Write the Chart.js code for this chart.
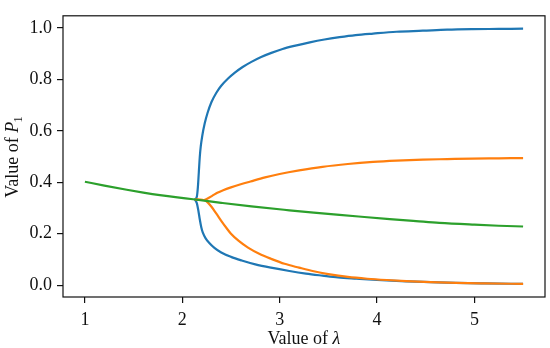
<!DOCTYPE html>
<html>
<head>
<meta charset="utf-8">
<script src="https://cdn.jsdelivr.net/npm/chart.js@4.4.0/dist/chart.umd.min.js"></script>
<style>
  html, body { margin: 0; padding: 0; background: #fff; }
  #wrap { width: 550px; height: 348px; }
</style>
</head>
<body>
<div id="wrap"><canvas id="chart" width="550" height="348"></canvas></div>
<script>
// values
const blueUpLambda = [2.13, 2.15, 2.16, 2.17, 2.18, 2.19, 2.205, 2.23, 2.26, 2.30, 2.35, 2.40, 2.47, 2.54, 2.62, 2.71, 2.81, 2.915, 3.03, 3.15, 3.31, 3.46, 3.615, 3.78, 3.96, 4.2, 4.47, 4.72, 4.98, 5.25, 5.5];
const blueUpP1 = [0.333, 0.345, 0.38, 0.44, 0.50, 0.54, 0.58, 0.628, 0.67, 0.712, 0.748, 0.775, 0.803, 0.826, 0.848, 0.868, 0.887, 0.903, 0.918, 0.930, 0.944, 0.955, 0.964, 0.972, 0.978, 0.985, 0.989, 0.993, 0.995, 0.996, 0.997];

const blueLowLambda = [2.13, 2.15, 2.165, 2.18, 2.195, 2.21, 2.24, 2.28, 2.33, 2.40, 2.50, 2.61, 2.75, 2.91, 3.10, 3.27, 3.44, 3.6, 3.79, 4.0, 4.3, 4.55, 4.81, 5.1, 5.5];
const blueLowP1 = [0.333, 0.318, 0.29, 0.255, 0.225, 0.205, 0.182, 0.163, 0.145, 0.127, 0.110, 0.096, 0.081, 0.068, 0.055, 0.045, 0.037, 0.030, 0.025, 0.020, 0.015, 0.012, 0.009, 0.007, 0.005];

const orangeUpLambda = [2.13, 2.22, 2.26, 2.31, 2.36, 2.42, 2.50, 2.60, 2.70, 2.85, 3.0, 3.2, 3.44, 3.7, 3.96, 4.2, 4.47, 4.72, 4.98, 5.25, 5.5];
const orangeUpP1 = [0.333, 0.331, 0.337, 0.348, 0.359, 0.369, 0.380, 0.392, 0.403, 0.419, 0.432, 0.446, 0.460, 0.471, 0.479, 0.484, 0.488, 0.490, 0.492, 0.493, 0.494];

const orangeLowLambda = [2.13, 2.22, 2.26, 2.30, 2.35, 2.40, 2.45, 2.50, 2.58, 2.675, 2.79, 2.915, 3.05, 3.2, 3.35, 3.5, 3.7, 3.9, 4.1, 4.3, 4.55, 4.81, 5.1, 5.5];
const orangeLowP1 = [0.333, 0.331, 0.322, 0.305, 0.278, 0.250, 0.224, 0.200, 0.172, 0.146, 0.122, 0.102, 0.083, 0.068, 0.054, 0.043, 0.032, 0.025, 0.020, 0.016, 0.012, 0.009, 0.007, 0.005];

const greenLambda = [1.0, 1.2, 1.43, 1.6, 1.77, 1.95, 2.11, 2.4, 2.71, 3.10, 3.35, 3.615, 3.87, 4.13, 4.4, 4.64, 5.0, 5.25, 5.5];
const greenP1 = [0.402, 0.387, 0.371, 0.360, 0.350, 0.341, 0.334, 0.320, 0.306, 0.291, 0.282, 0.273, 0.265, 0.257, 0.249, 0.242, 0.235, 0.231, 0.228];

const xTicks = [1, 2, 3, 4, 5];
const yTicks = [0.0, 0.2, 0.4, 0.6, 0.8, 1.0];

const pts = (xs, ys) => xs.map((x, i) => ({ x: x, y: ys[i] }));

const serif = "'Liberation Serif', 'DejaVu Serif', serif";

function line(xs, ys, color, order) {
  return {
    data: pts(xs, ys),
    borderColor: color,
    borderWidth: 2.2,
    pointRadius: 0,
    fill: false,
    cubicInterpolationMode: 'monotone',
    order: order
  };
}

// frame round the plot plus the two axis titles with italic symbols
const framePlugin = {
  id: 'frame',
  afterDraw(chart) {
    const ctx = chart.ctx;
    const a = chart.chartArea;
    ctx.save();
    ctx.strokeStyle = '#111';
    ctx.lineWidth = 1.2;
    ctx.strokeRect(a.left, a.top, a.right - a.left, a.bottom - a.top);

    ctx.fillStyle = '#111';
    ctx.textBaseline = 'alphabetic';

    // x title: "Value of λ"
    const part1 = 'Value of ';
    ctx.font = '18px ' + serif;
    const w1 = ctx.measureText(part1).width;
    ctx.font = 'italic 18px ' + serif;
    const w2 = ctx.measureText('λ').width;
    let x0 = (a.left + a.right) / 2 - (w1 + w2) / 2;
    ctx.font = '18px ' + serif;
    ctx.textAlign = 'left';
    ctx.fillText(part1, x0, 344);
    ctx.font = 'italic 18px ' + serif;
    ctx.fillText('λ', x0 + w1, 344);

    // y title: "Value of P1" rotated
    ctx.translate(18, (a.top + a.bottom) / 2);
    ctx.rotate(-Math.PI / 2);
    ctx.font = '18px ' + serif;
    const v1 = ctx.measureText(part1).width;
    ctx.font = 'italic 18px ' + serif;
    const v2 = ctx.measureText('P').width;
    ctx.font = '13px ' + serif;
    const v3 = ctx.measureText('1').width;
    const y0 = -(v1 + v2 + v3) / 2;
    ctx.font = '18px ' + serif;
    ctx.fillText(part1, y0, 0);
    ctx.font = 'italic 18px ' + serif;
    ctx.fillText('P', y0 + v1, 0);
    ctx.font = '13px ' + serif;
    ctx.fillText('1', y0 + v1 + v2 - 1, 4);
    ctx.restore();
  }
};

new Chart(document.getElementById('chart'), {
  type: 'line',
  data: {
    datasets: [
      line(blueUpLambda, blueUpP1, '#1f77b4', 3),
      line(blueLowLambda, blueLowP1, '#1f77b4', 3),
      line(orangeUpLambda, orangeUpP1, '#ff7f0e', 2),
      line(orangeLowLambda, orangeLowP1, '#ff7f0e', 2),
      line(greenLambda, greenP1, '#2ca02c', 1)
    ]
  },
  options: {
    responsive: false,
    animation: false,
    layout: { padding: { top: 4, right: 5, left: 0, bottom: 0 } },
    plugins: { legend: { display: false }, tooltip: { enabled: false } },
    scales: {
      x: {
        type: 'linear',
        min: 0.775,
        max: 5.725,
        afterBuildTicks: s => { s.ticks = xTicks.map(v => ({ value: v })); },
        afterFit: s => { s.height = 51; },
        grid: { drawOnChartArea: false, drawTicks: true, tickLength: 6, color: '#111', lineWidth: 1.2 },
        border: { display: false },
        ticks: {
          padding: 6,
          color: '#111',
          font: { family: serif, size: 18 },
          maxRotation: 0,
          callback: v => String(v)
        }
      },
      y: {
        type: 'linear',
        min: -0.046,
        max: 1.047,
        afterBuildTicks: s => { s.ticks = yTicks.map(v => ({ value: v })); },
        afterFit: s => { s.width = 63; },
        grid: { drawOnChartArea: false, drawTicks: true, tickLength: 6, color: '#111', lineWidth: 1.2 },
        border: { display: false },
        ticks: {
          padding: 5,
          color: '#111',
          font: { family: serif, size: 18 },
          callback: v => v.toFixed(1)
        }
      }
    }
  },
  plugins: [framePlugin]
});
</script>
</body>
</html>
